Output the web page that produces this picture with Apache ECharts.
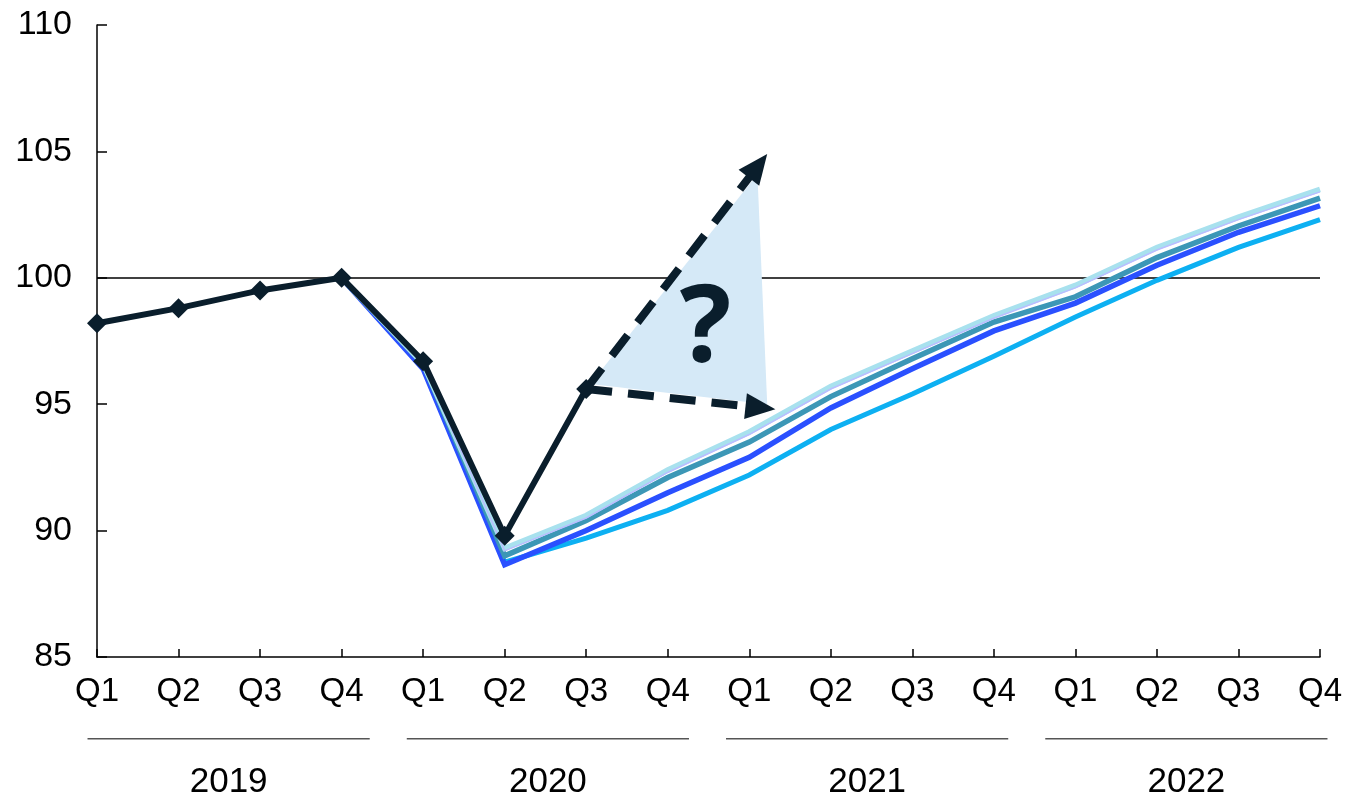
<!DOCTYPE html>
<html>
<head>
<meta charset="utf-8">
<script src="https://cdn.jsdelivr.net/npm/echarts@6/dist/echarts.min.js"></script>
<style>
html,body{margin:0;padding:0;background:#fff;}
#chart{width:1347px;height:797px;}
</style>
</head>
<body>
<div id="chart"></div>
<script>
const quarters = ['Q1','Q2','Q3','Q4','Q1','Q2','Q3','Q4','Q1','Q2','Q3','Q4','Q1','Q2','Q3','Q4'];
const years = ['2019','2020','2021','2022'];
const yTicks = {min: 85, max: 110, interval: 5};
const referenceLevel = 100;

const actual    = [98.2, 98.8, 99.5, 100, 96.7, 89.8, 95.6, null, null, null, null, null, null, null, null, null];
const lightBlue = [null, null, null, 100, 96.6, 89.3, 90.6, 92.4, 93.9, 95.7, 97.1, 98.5, 99.7, 101.2, 102.4, 103.5];
const lavender  = [null, null, null, 100, 96.6, 89.2, 90.5, 92.3, 93.8, 95.6, 97.0, 98.4, 99.6, 101.1, 102.3, 103.4];
const teal      = [null, null, null, 100, 96.6, 89.0, 90.4, 92.1, 93.5, 95.3, 96.8, 98.25, 99.25, 100.8, 102.05, 103.15];
const blue      = [null, null, null, 100, 96.4, 88.65, 90.0, 91.5, 92.9, 94.85, 96.4, 97.9, 99.0, 100.5, 101.8, 102.85];
const sky       = [null, null, null, 100, 96.5, 88.75, 89.7, 90.8, 92.2, 94.0, 95.4, 96.9, 98.45, 99.9, 101.2, 102.3];

// annotation, in data coordinates [quarter index, index value]
const arrowStart = [6, 95.6];
const upperTip = [8.22, 104.9];
const lowerTip = [8.32, 94.8];
const shadeArea = [[6.05, 95.8], [8.1, 104.1], [8.22, 95.0]];
const questionAt = [7.46, 97.9];

const DARK = '#0a1e2c';
const FONT = 'Liberation Sans, Arial, sans-serif';

const chart = echarts.init(document.getElementById('chart'), null, {renderer: 'canvas'});

function projLine(name, data, color, width, z) {
  return {
    name, type: 'line', data, xAxisIndex: 0, yAxisIndex: 0,
    showSymbol: false, symbol: 'none', z,
    lineStyle: {color, width, cap: 'butt', join: 'miter'},
    emphasis: {disabled: true}
  };
}

function arrowShapes(p0, p1, color) {
  const dx = p1[0] - p0[0], dy = p1[1] - p0[1];
  const len = Math.sqrt(dx * dx + dy * dy);
  const ux = dx / len, uy = dy / len;
  const headLen = 30, headHalf = 13;
  const base = [p1[0] - ux * headLen, p1[1] - uy * headLen];
  const nx = -uy, ny = ux;
  return [
    {type: 'line', shape: {x1: p0[0], y1: p0[1], x2: base[0] + ux * 2, y2: base[1] + uy * 2},
     style: {stroke: color, lineWidth: 8, lineDash: [26, 16], fill: null}},
    {type: 'polygon', shape: {points: [p1, [base[0] + nx * headHalf, base[1] + ny * headHalf], [base[0] - nx * headHalf, base[1] - ny * headHalf]]},
     style: {fill: color}}
  ];
}

const option = {
  animation: false,
  backgroundColor: '#fff',
  grid: [
    {left: 97, right: 27, top: 25, bottom: 140, containLabel: false},
    {left: 69, width: 1277, top: 736, height: 11, containLabel: false}
  ],
  xAxis: [
    {
      type: 'category', gridIndex: 0, data: quarters, boundaryGap: false,
      axisLine: {show: true, lineStyle: {color: '#000', width: 1.5}},
      axisTick: {show: true, inside: true, length: 8, lineStyle: {color: '#000', width: 1.5}},
      axisLabel: {color: '#000', fontSize: 33, fontFamily: FONT, margin: 18},
      splitLine: {show: false}
    },
    {
      type: 'value', gridIndex: 0, min: 0, max: quarters.length - 1, show: false
    },
    {
      type: 'category', gridIndex: 1, data: years, boundaryGap: true,
      axisLine: {show: false}, axisTick: {show: false},
      axisLabel: {color: '#000', fontSize: 35, fontFamily: FONT, margin: 26},
      splitLine: {show: false}
    }
  ],
  yAxis: [
    {
      type: 'value', gridIndex: 0, min: yTicks.min, max: yTicks.max, interval: yTicks.interval,
      axisLine: {show: true, lineStyle: {color: '#000', width: 1.5}},
      axisTick: {show: true, inside: true, length: 10, lineStyle: {color: '#000', width: 1.5}},
      axisLabel: {color: '#000', fontSize: 34, fontFamily: FONT, margin: 25},
      splitLine: {show: false}
    },
    {type: 'value', gridIndex: 1, min: 0, max: 1, show: false}
  ],
  series: [
    projLine('sky', sky, '#0db0f2', 5, 2),
    projLine('blue', blue, '#2a50ff', 5.5, 3),
    projLine('teal', teal, '#3c97b6', 5.5, 4),
    projLine('lavender', lavender, '#b9bdff', 1.5, 5),
    projLine('lightBlue', lightBlue, '#a8e1ee', 5.5, 4),
    {
      name: 'annotation', type: 'custom', xAxisIndex: 1, yAxisIndex: 0, z: 6, clip: false,
      data: [0], silent: true,
      renderItem: function (params, api) {
        const poly = shadeArea.map(p => api.coord(p));
        const s = api.coord(arrowStart);
        const up = api.coord(upperTip);
        const lo = api.coord(lowerTip);
        const q = api.coord(questionAt);
        const children = [
          {type: 'polygon', shape: {points: poly}, style: {fill: '#d5e9f7'}}
        ].concat(arrowShapes(s, up, DARK), arrowShapes(s, lo, DARK), [
          {type: 'text', x: q[0], y: q[1],
           style: {text: '?', fill: DARK, font: 'bold 108px "Noto Sans", sans-serif', align: 'center', verticalAlign: 'middle'}}
        ]);
        return {type: 'group', children};
      }
    },
    {
      name: 'actual', type: 'line', data: actual, xAxisIndex: 0, yAxisIndex: 0, z: 8,
      symbol: 'diamond', symbolSize: 20, showAllSymbol: true,
      itemStyle: {color: DARK},
      lineStyle: {color: DARK, width: 6, join: 'miter'},
      emphasis: {disabled: true},
      markLine: {
        silent: true, symbol: 'none', label: {show: false}, z: 1,
        lineStyle: {color: '#000', width: 1.5, type: 'solid'},
        data: [{yAxis: referenceLevel}]
      }
    },
    {
      name: 'yearRules', type: 'custom', xAxisIndex: 2, yAxisIndex: 1, clip: false, silent: true,
      data: years.map((y, i) => [i, 0]),
      renderItem: function (params, api) {
        const c = api.coord([api.value(0), 0]);
        const band = api.size([1, 0])[0];
        const half = band * 0.442;
        return {type: 'line', shape: {x1: c[0] - half, y1: c[1], x2: c[0] + half, y2: c[1]},
                style: {stroke: '#555', lineWidth: 1.5}};
      }
    }
  ]
};
chart.setOption(option);
</script>
</body>
</html>
